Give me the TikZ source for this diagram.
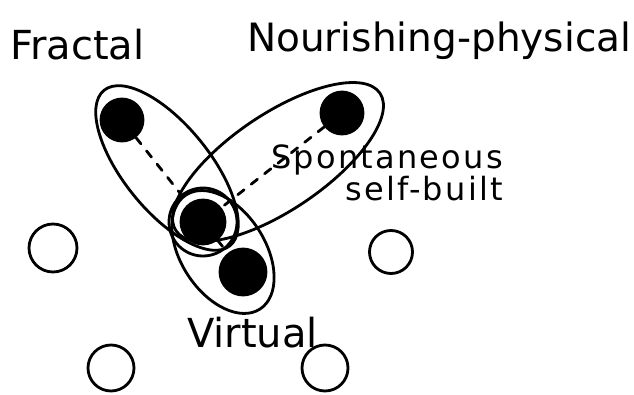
\documentclass[tikz,border=0pt]{standalone}
\usepackage{fontspec}
\setmainfont{DejaVu Sans}
\usepackage{tikz}
\usetikzlibrary{shapes.geometric}

\tikzset{
  spot/.style={circle, draw, fill=black, line width=2.8pt, inner sep=0pt},
  hole/.style={circle, draw, line width=2.8pt, inner sep=0pt},
  group/.style={ellipse, draw, line width=2.8pt, inner sep=0pt},
  link/.style={line width=2.8pt, dash pattern=on 8pt off 9pt},
  word/.style={inner sep=0pt, font=\fontsize{39}{39}\selectfont}
}

\begin{document}
\begin{tikzpicture}[x=1pt, y=-1pt, line cap=round]
\useasboundingbox (0,0) rectangle (634,395);
% Filled members
\node (fractal) at (122,120) [spot, minimum size=42pt] {};
\node (nourish) at (342,113) [spot, minimum size=42pt] {};
\node (spont) at (203,222) [spot, minimum size=44pt] {};
\node (virtual) at (243,272) [spot, minimum size=46pt] {};

% Empty members
\node (hole1) at (53,248) [hole, minimum size=48pt] {};
\node (hole2) at (391,252) [hole, minimum size=43pt] {};
\node (hole3) at (111,368) [hole, minimum size=46pt] {};
\node (hole4) at (325,368) [hole, minimum size=46pt] {};

% Groups
\node (fractalset) at (167,168) [group, rotate=-51, minimum width=200pt, minimum height=86pt] {};
\node (nourishset) at (278,162) [group, rotate=34, minimum width=246pt, minimum height=96pt] {};
\node (virtualset) at (223,252) [group, rotate=-57, minimum width=136pt, minimum height=84pt] {};
\node (spontring) at (spont) [hole, minimum size=68pt] {};

% Links
\draw [link] (fractal) -- (spont);
\draw [link] (nourish) -- (spont);
\draw [link] (spont) -- (virtual);

% Labels
\node (fractallabel) at (10,60) [word, anchor=base west, font=\fontsize{40}{40}\selectfont] {Fractal};
\node (nourishlabel) at (247,52) [word, anchor=base west] {Nourishing-physical};
\node (spontlabel) at (503,201) [word, anchor=base east, align=right,
  font=\fontsize{32}{32}\selectfont\addfontfeature{LetterSpace=7}] {Spontaneous\\self-built};
\node (virtuallabel) at (187,347) [word, anchor=base west, font=\fontsize{40}{40}\selectfont] {Virtual};
\end{tikzpicture}
\end{document}
